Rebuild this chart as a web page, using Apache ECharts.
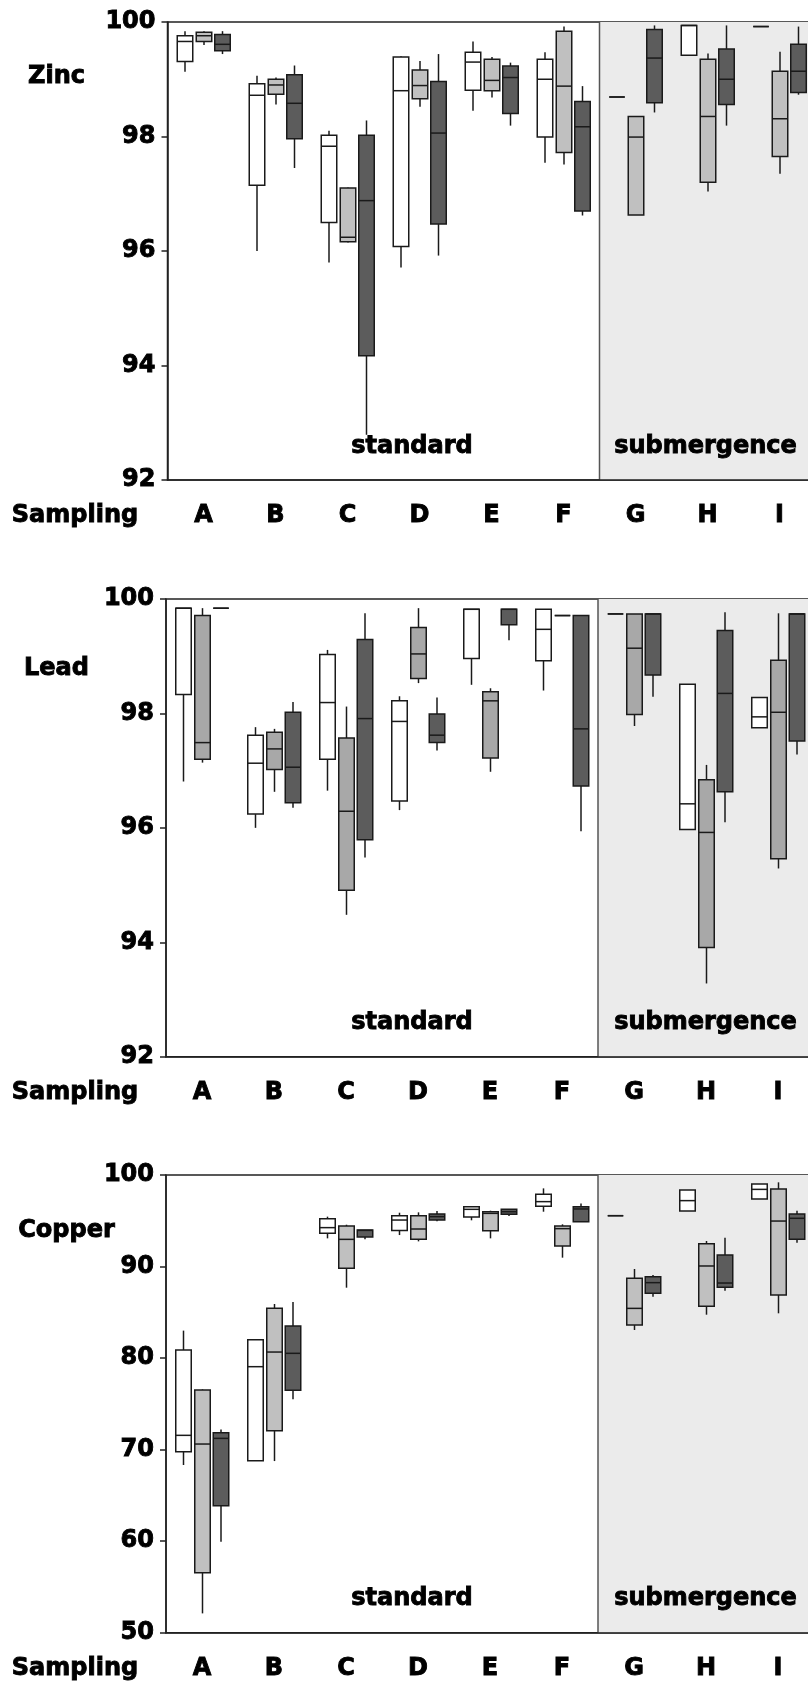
<!DOCTYPE html>
<html><head><meta charset="utf-8">
<script src="https://cdn.jsdelivr.net/npm/echarts@6/dist/echarts.min.js"></script>
<style>html,body{margin:0;padding:0;background:#fff}#c{width:808px;height:1682px}</style>
</head><body><div id="c"></div>
<script>
const categories = ['A','B','C','D','E','F','G','H','I'];
const submergenceStart = 'G';
const zincTicks = [92, 94, 96, 98, 100];
const leadTicks = [92, 94, 96, 98, 100];
const copperTicks = [50, 60, 70, 80, 90, 100];

// each entry: [low, Q1, median, Q3, high]
const zincWhite = [
  [99.13,99.31,99.66,99.76,99.84],[96.00,97.15,98.72,98.92,99.06],[95.80,96.50,97.83,98.02,98.10],
  [95.71,96.08,98.80,99.39,99.40],[98.45,98.81,99.30,99.47,99.66],[97.54,97.99,99.00,99.35,99.47],
  [98.69,98.69,98.69,98.69,98.69],[99.42,99.42,99.94,99.94,99.94],[99.92,99.92,99.92,99.92,99.92]];
const zincGray = [
  [99.60,99.66,99.76,99.82,99.84],[98.56,98.74,98.90,99.00,99.03],[96.15,96.16,96.24,97.10,97.11],
  [98.52,98.66,98.89,99.16,99.32],[98.68,98.80,98.98,99.35,99.39],[97.51,97.72,98.88,99.84,99.92],
  [96.63,96.63,97.99,98.35,98.36],[97.04,97.20,98.35,99.35,99.45],[97.35,97.65,98.31,99.14,99.48]];
const zincDark = [
  [99.44,99.50,99.61,99.78,99.84],[97.45,97.96,98.58,99.08,99.24],[92.79,94.17,96.88,98.02,98.28],
  [95.92,96.47,98.06,98.96,99.44],[98.19,98.40,99.03,99.23,99.29],[96.62,96.70,98.17,98.61,98.88],
  [98.42,98.59,99.37,99.87,99.94],[98.19,98.56,99.00,99.53,99.94],[98.73,98.77,99.14,99.61,99.92]];

const leadWhite = [
  [96.81,98.33,99.84,99.84,99.84],[96.00,96.24,97.13,97.62,97.76],[96.65,97.20,98.19,99.03,99.11],
  [96.31,96.47,97.86,98.22,98.30],[98.50,98.96,99.82,99.82,99.82],[98.40,98.92,99.47,99.82,99.82],
  [99.74,99.74,99.74,99.74,99.74],[95.97,95.97,96.42,98.51,98.51],[97.75,97.75,97.94,98.28,98.28]];
const leadGray = [
  [97.14,97.20,97.49,99.71,99.84],[96.63,97.02,97.38,97.67,97.73],[94.48,94.91,96.29,97.57,98.12],
  [98.53,98.61,99.04,99.50,99.84],[96.98,97.22,98.22,98.38,98.44],[99.71,99.71,99.71,99.71,99.71],
  [97.78,97.98,99.14,99.74,99.74],[93.28,93.91,95.92,96.84,97.10],[95.29,95.46,98.02,98.93,99.75]];
const leadDark = [
  [99.84,99.84,99.84,99.84,99.84],[96.35,96.44,97.06,98.02,98.20],[95.48,95.79,97.91,99.29,99.75],
  [97.35,97.49,97.62,97.99,98.28],[99.28,99.55,99.82,99.82,99.82],[95.94,96.73,97.73,99.71,99.71],
  [98.29,98.67,99.74,99.74,99.74],[96.10,96.63,98.35,99.45,99.77],[97.28,97.52,99.74,99.74,99.74]];

const copperWhite = [
  [68.32,69.77,71.56,80.88,83.00],[68.79,68.79,79.06,82.00,82.00],[93.08,93.63,94.25,95.23,95.45],
  [93.44,93.95,95.08,95.56,95.88],[95.05,95.41,96.25,96.54,96.54],[95.99,96.58,97.09,97.89,98.54],
  [95.56,95.56,95.56,95.56,95.56],[96.07,96.07,97.20,98.36,98.36],[97.38,97.38,98.43,99.02,99.02]];
const copperGray = [
  [52.11,56.56,70.61,76.51,76.58],[68.75,72.07,80.66,85.43,85.91],[87.69,89.80,92.97,94.43,94.57],
  [92.75,92.97,94.10,95.56,95.92],[93.08,93.92,95.81,95.99,96.10],[90.97,92.24,94.14,94.43,94.61],
  [83.07,83.61,85.43,88.71,89.73],[84.74,85.65,90.06,92.50,92.79],[84.89,86.89,94.97,98.47,99.20]];
const copperDark = [
  [59.94,63.87,71.23,71.85,72.21],[75.49,76.48,80.52,83.50,86.13],[92.97,93.23,93.95,93.99,93.99],
  [94.94,95.08,95.45,95.74,96.07],[95.52,95.70,95.99,96.25,96.25],[94.90,94.90,96.29,96.54,96.90],
  [86.71,87.07,88.24,88.89,89.08],[87.36,87.73,88.20,91.26,93.15],[92.61,92.97,95.27,95.74,96.10]];

const panels = [
  {name:'Zinc', ticks:zincTicks, sets:[zincWhite,zincGray,zincDark], gray:'#c0c0c0', left:167.5, top:22, height:458, nameX:56.5, nameY:77},
  {name:'Lead', ticks:leadTicks, sets:[leadWhite,leadGray,leadDark], gray:'#a8a8a8', left:166, top:599, height:457.7, nameX:56.5, nameY:669},
  {name:'Copper', ticks:copperTicks, sets:[copperWhite,copperGray,copperDark], gray:'#c0c0c0', left:166, top:1175, height:457.7, nameX:66.5, nameY:1231}
];

const FONT = 'DejaVu Sans';
const STROKE = '#1a1a1a';
const offsets = [-18.5, 0.5, 19];
const HW = 7.75;

function boxRender(offset, fill) {
  return function (params, api) {
    const idx = api.value(0);
    const x = api.coord([idx, api.value(3)])[0] + offset;
    const y = (k) => api.coord([idx, api.value(k)])[1];
    const yLow = y(1), yQ1 = y(2), yMed = y(3), yQ3 = y(4), yHigh = y(5);
    const st = {stroke: STROKE, lineWidth: 1.5};
    return {type:'group', children:[
      {type:'line', shape:{x1:x,y1:yHigh,x2:x,y2:yQ3}, style:st},
      {type:'line', shape:{x1:x,y1:yQ1,x2:x,y2:yLow}, style:st},
      {type:'rect', shape:{x:x-HW,y:yQ3,width:2*HW,height:Math.max(yQ1-yQ3,0)}, style:{fill:fill, stroke:STROKE, lineWidth:1.5}},
      {type:'line', shape:{x1:x-HW,y1:yMed,x2:x+HW,y2:yMed}, style:st}
    ]};
  };
}
function regionRender(params, api) {
  const bw = api.size([1, 0])[0];
  const x0 = api.coord([api.value(0), api.value(1)])[0] - bw / 2;
  const cs = params.coordSys;
  return {type:'group', children:[
    {type:'rect', shape:{x:x0, y:cs.y, width:cs.x + cs.width - x0, height:cs.height}, style:{fill:'#ebebeb'}},
    {type:'line', shape:{x1:x0, y1:cs.y, x2:x0, y2:cs.y + cs.height}, style:{stroke:'#555', lineWidth:1.5}}
  ]};
}

const grids = [], xAxes = [], yAxes = [], series = [], graphics = [];
const txt = (text, x, y) => ({type:'text', x:x, y:y, z:100, silent:true,
  style:{text:text, font:'bold 24px "' + FONT + '"', fill:'#000', stroke:'#000', lineWidth:0.9, align:'center', verticalAlign:'middle'}});
const labelStyle = {fontFamily:FONT, fontWeight:'bold', fontSize:24, color:'#000', textBorderColor:'#000', textBorderWidth:0.9};

panels.forEach((p, i) => {
  grids.push({left:p.left, top:p.top, width:648, height:p.height, show:true, borderColor:'#222', borderWidth:1.5, backgroundColor:'transparent', containLabel:false, outerBoundsMode:'none'});
  xAxes.push({type:'category', gridIndex:i, data:categories, boundaryGap:true, z:5,
    axisLine:{lineStyle:{color:'#222', width:1.5}},
    axisTick:{alignWithLabel:true, length:13, lineStyle:{color:'#222', width:1.5}},
    axisLabel:Object.assign({margin:24, lineHeight:24}, labelStyle),
    splitLine:{show:false}});
  const tk = p.ticks;
  yAxes.push({type:'value', gridIndex:i, min:tk[0], max:tk[tk.length-1], interval:tk[1]-tk[0], z:5,
    axisLine:{show:true, lineStyle:{color:'#222', width:1.5}},
    axisTick:{show:true, length:6, lineStyle:{color:'#222', width:1.5}},
    axisLabel:Object.assign({margin:12}, labelStyle),
    splitLine:{show:false}});
  series.push({type:'custom', xAxisIndex:i, yAxisIndex:i, z:1, silent:true,
    renderItem:regionRender, data:[[categories.indexOf(submergenceStart), tk[tk.length-1]]]});
  const fills = ['#ffffff', p.gray, '#5c5c5c'];
  p.sets.forEach((set, s) => {
    series.push({type:'custom', xAxisIndex:i, yAxisIndex:i, z:3, silent:true,
      renderItem:boxRender(offsets[s], fills[s]),
      encode:{x:0, y:[1,2,3,4,5]},
      data:set.map((d, k) => [k].concat(d))});
  });
  const axisY = p.top + p.height;
  graphics.push(txt(p.name, p.nameX, p.nameY));
  graphics.push(txt('Sampling', 75, axisY + 36));
  graphics.push(txt('standard', 412, axisY - 33.5));
  graphics.push(txt('submergence', 705.5, axisY - 33.5));
});

const chart = echarts.init(document.getElementById('c'), null, {renderer:'canvas'});
chart.setOption({animation:false, backgroundColor:'#fff', grid:grids, xAxis:xAxes, yAxis:yAxes, series:series, graphic:graphics});
</script></body></html>
